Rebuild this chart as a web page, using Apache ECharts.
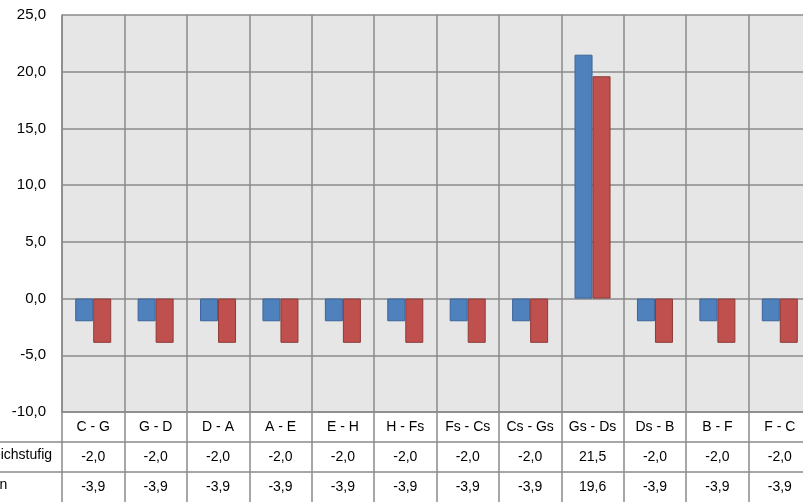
<!DOCTYPE html>
<html><head><meta charset="utf-8">
<script src="https://cdn.jsdelivr.net/npm/echarts@6/dist/echarts.min.js"></script>
<style>html,body{margin:0;padding:0;background:#fff}#c{width:803px;height:502px}</style>
</head><body><div id="c"></div>
<script>
// ---- data ----
const categories = ['C - G','G - D','D - A','A - E','E - H','H - Fs','Fs - Cs','Cs - Gs','Gs - Ds','Ds - B','B - F','F - C'];
const gleichstufig = [-2.0,-2.0,-2.0,-2.0,-2.0,-2.0,-2.0,-2.0,21.5,-2.0,-2.0,-2.0];
const rein = [-3.9,-3.9,-3.9,-3.9,-3.9,-3.9,-3.9,-3.9,19.6,-3.9,-3.9,-3.9];
const seriesNames = ['gleichstufig','rein'];
const yMin = -10, yMax = 25, yInterval = 5;

// ---- layout / style ----
const W = 803, H = 502;
const GL = 62, GT = 15, GW = 749, GB = 90, ROW = 30;
const FONT = 'Liberation Sans';
const FS = 14;
const GRID_C = '#8a8a8a';
const fmt = v => v.toFixed(1).replace('.', ',');

const chart = echarts.init(document.getElementById('c'), null, {renderer: 'canvas'});

function tableAxis(idx, values) {
  return {
    type: 'category', data: categories, position: 'bottom', gridIndex: 0,
    offset: ROW * idx,
    axisLine: {show: true, onZero: false, lineStyle: {color: GRID_C, width: 1.5}},
    axisTick: {show: false},
    splitLine: {show: false},
    axisLabel: {
      interval: 0, margin: ROW / 2, verticalAlign: 'middle',
      color: '#000', fontFamily: FONT, fontSize: FS,
      formatter: (v, i) => fmt(values[i])
    }
  };
}

const tableTop = H - GB;
const option = {
  animation: false,
  backgroundColor: '#fff',
  grid: {left: GL, top: GT, width: GW, bottom: GB, show: true, backgroundColor: '#e6e6e6', borderWidth: 0, containLabel: false, outerBoundsMode: 'none'},
  xAxis: [
    {
      type: 'category', data: categories, position: 'bottom',
      axisLine: {show: true, onZero: false, lineStyle: {color: GRID_C, width: 1.5}},
      axisTick: {show: true, interval: 0, length: ROW * 3, inside: false, lineStyle: {color: GRID_C, width: 1.5}},
      splitLine: {show: true, interval: 0, lineStyle: {color: GRID_C, width: 1.5}},
      axisLabel: {interval: 0, margin: ROW / 2, verticalAlign: 'middle', color: '#000', fontFamily: FONT, fontSize: FS}
    },
    tableAxis(1, gleichstufig),
    tableAxis(2, rein)
  ],
  yAxis: {
    type: 'value', min: yMin, max: yMax, interval: yInterval,
    axisLine: {show: true, lineStyle: {color: GRID_C, width: 1.5}},
    axisTick: {show: false},
    splitLine: {show: true, lineStyle: {color: GRID_C, width: 1.5}},
    axisLabel: {margin: 16, color: '#000', fontFamily: FONT, fontSize: 15, formatter: v => fmt(v)}
  },
  series: [
    {
      name: seriesNames[0], type: 'bar', data: gleichstufig, xAxisIndex: 0,
      barWidth: 18, barGap: '0%',
      itemStyle: {color: '#4f81bd', borderColor: '#3a649c', borderWidth: 1}
    },
    {
      name: seriesNames[1], type: 'bar', data: rein, xAxisIndex: 0,
      barWidth: 18, barGap: '0%',
      itemStyle: {color: '#c0504d', borderColor: '#8e3a38', borderWidth: 1}
    }
  ],
  graphic: [
    {type: 'text', left: -18, top: tableTop + ROW * 1.5 - 9, style: {text: seriesNames[0], fontFamily: FONT, fontSize: FS, fill: '#000'}},
    {type: 'text', left: -16, top: tableTop + ROW * 2.5 - 9, style: {text: seriesNames[1], fontFamily: FONT, fontSize: FS, fill: '#000'}},
    {type: 'line', shape: {x1: 0, y1: tableTop + ROW, x2: GL, y2: tableTop + ROW}, style: {stroke: GRID_C, lineWidth: 1.5}},
    {type: 'line', shape: {x1: 0, y1: tableTop + ROW * 2, x2: GL, y2: tableTop + ROW * 2}, style: {stroke: GRID_C, lineWidth: 1.5}}
  ]
};
chart.setOption(option);
</script>
</body></html>
